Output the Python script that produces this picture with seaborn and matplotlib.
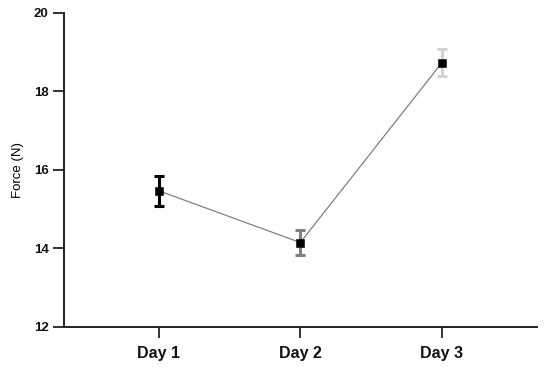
import numpy as np
import pandas as pd
import seaborn as sns
import matplotlib.pyplot as plt

days = ['Day 1', 'Day 2', 'Day 3']
force_mean = [15.47, 14.15, 18.73]
force_err = [0.38, 0.32, 0.35]
err_colors = ['#000000', '#808080', '#d3d3d3']

df = pd.DataFrame({'day': days, 'force': force_mean, 'err': force_err})
df['x'] = np.arange(len(df))

sns.set_style('ticks')
plt.rcParams['font.family'] = ['Liberation Sans', 'DejaVu Sans']

fig = plt.figure(figsize=(5.5, 3.78), dpi=100)
ax = fig.add_axes([0.116, 0.135, 0.86, 0.831])

# linea de union
sns.lineplot(data=df, x='x', y='force', color='#808080', linewidth=0.9, ax=ax, zorder=1)

# barras de error, cada dia con su gris
for i, row in df.iterrows():
    ax.errorbar(row['x'], row['force'], yerr=row['err'], fmt='none',
                ecolor=err_colors[i], elinewidth=2.2, capsize=3.3, capthick=2.2, zorder=2)

sns.scatterplot(data=df, x='x', y='force', marker='s', s=26, color='black',
                edgecolor='black', ax=ax, zorder=3)

ax.set_xlim(-0.67, 2.67)
ax.set_ylim(12, 20)
ax.set_yticks([12, 14, 16, 18, 20])
ax.set_xticks(df['x'])
ax.set_xticklabels(days, fontsize=11.5, fontweight='bold')
for lab in ax.get_yticklabels():
    lab.set_fontweight('bold')
    lab.set_fontsize(9.5)
ax.set_xlabel('')
ax.set_ylabel('Force (N)', fontsize=9.5, color='black', labelpad=7)
ax.tick_params(axis='both', direction='out', width=1.3, length=8, color='#222222',
               labelcolor='#111111')
ax.tick_params(axis='x', pad=6)
ax.tick_params(axis='y', pad=3)

sns.despine(ax=ax)
for sp in ['left', 'bottom']:
    ax.spines[sp].set_linewidth(1.4)
    ax.spines[sp].set_color('#222222')

fig.savefig('out.png', dpi=100)
